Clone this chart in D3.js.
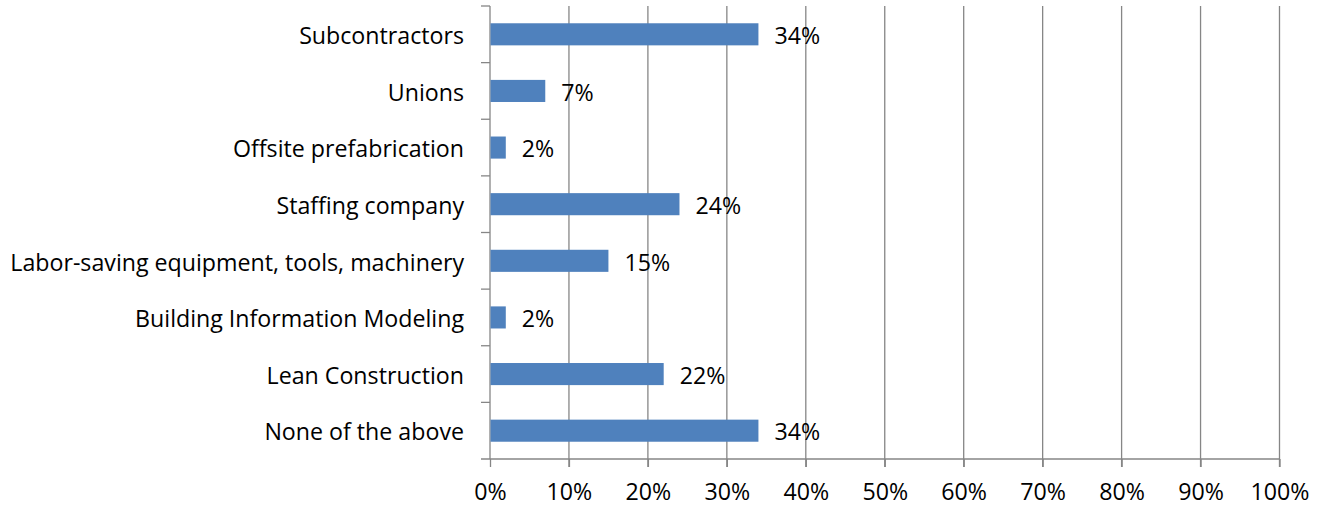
<!DOCTYPE html>
<html><head><meta charset="utf-8">
<script src="https://cdn.jsdelivr.net/npm/d3@7"></script>
<style>body{margin:0;background:#fff}svg{display:block}text{font-family:"Open Sans",sans-serif;fill:#000}</style>
</head><body>
<svg id="c" width="1325" height="507"></svg>
<script>
const categories = ["Subcontractors","Unions","Offsite prefabrication","Staffing company","Labor-saving equipment, tools, machinery","Building Information Modeling","Lean Construction","None of the above"];
const values = [34,7,2,24,15,2,22,34];
const xTicks = [0,10,20,30,40,50,60,70,80,90,100];

const svg = d3.select("#c");
const pLeft = 490, pRight = 1279.5, pTop = 6, pBottom = 459;
const x = d3.scaleLinear().domain([0,100]).range([pLeft,pRight]);
const y = d3.scaleBand().domain(categories).range([pTop,pBottom]).paddingInner(0.61).paddingOuter(0.305);
const grid = "#868686";
const fs = 23.2;

// gridlines
svg.append("g").selectAll("line").data(xTicks.slice(1)).join("line")
  .attr("x1",d=>x(d)).attr("x2",d=>x(d)).attr("y1",pTop).attr("y2",pBottom+8)
  .attr("stroke",grid).attr("stroke-width",1.3);

// bottom axis
const xa = d3.axisBottom(x).tickValues(xTicks).tickFormat(d=>d+"%").tickSize(8).tickSizeOuter(0);
const gx = svg.append("g").attr("transform",`translate(0,${pBottom})`).call(xa);
gx.select(".domain").remove();
gx.selectAll(".tick line").attr("stroke",grid).attr("stroke-width",1.3);
gx.selectAll(".tick text").attr("font-size",fs).attr("font-family","Open Sans").attr("dy","0").attr("y",41).attr("fill","#000");
svg.append("line").attr("x1",pLeft-9).attr("x2",pRight).attr("y1",pBottom).attr("y2",pBottom).attr("stroke",grid).attr("stroke-width",1.3);

// left axis
svg.append("line").attr("x1",pLeft).attr("x2",pLeft).attr("y1",pTop).attr("y2",pBottom).attr("stroke",grid).attr("stroke-width",1.3);
const step = y.step();
const bounds = d3.range(categories.length).map(i=>pTop+i*step);
svg.append("g").selectAll("line").data(bounds).join("line")
  .attr("x1",pLeft-9).attr("x2",pLeft).attr("y1",d=>d).attr("y2",d=>d)
  .attr("stroke",grid).attr("stroke-width",1.3);

// category labels
svg.append("g").selectAll("text").data(categories).join("text")
  .attr("x",pLeft-26).attr("y",d=>y(d)+y.bandwidth()/2).attr("dy","0.42em")
  .attr("text-anchor","end").attr("font-size",fs).text(d=>d);

// bars
svg.append("g").selectAll("rect").data(values).join("rect")
  .attr("x",x(0)+0.5).attr("y",(d,i)=>y(categories[i]))
  .attr("width",d=>x(d)-x(0)-0.5).attr("height",y.bandwidth())
  .attr("fill","#4F81BD");

// value labels
svg.append("g").selectAll("text").data(values).join("text")
  .attr("x",d=>x(d)+16).attr("y",(d,i)=>y(categories[i])+y.bandwidth()/2).attr("dy","0.42em")
  .attr("font-size",fs).text(d=>d+"%");
</script>
</body></html>
